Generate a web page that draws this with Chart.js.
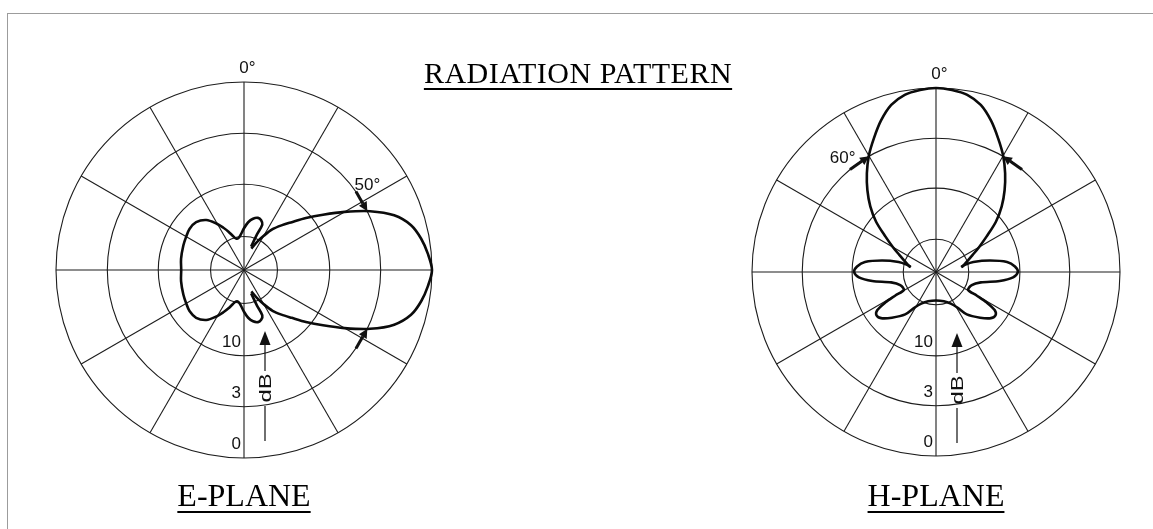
<!DOCTYPE html>
<html>
<head>
<meta charset="utf-8">
<script src="https://cdn.jsdelivr.net/npm/chart.js@4.4.0/dist/chart.umd.min.js"></script>
<style>
  html, body { margin: 0; padding: 0; background: #fff; }
  #page { position: relative; width: 1153px; height: 529px; overflow: hidden; background: #fff; }
  #frame { position: absolute; left: 7px; top: 13px; width: 1160px; height: 530px;
           border-top: 1px solid #9c9c9c; border-left: 1px solid #9c9c9c; }
  canvas { position: absolute; }
  .lbl { position: absolute; font-family: "Liberation Serif", "Times New Roman", serif; color: #000;
         text-align: center; white-space: nowrap; text-decoration: underline;
         text-decoration-thickness: 2px; text-underline-offset: 5px; line-height: 1; }
</style>
</head>
<body>
<div id="page">
  <div id="frame"></div>
  <canvas id="eChart" width="500" height="440" style="left:0px;top:40px;"></canvas>
  <canvas id="hChart" width="513" height="440" style="left:640px;top:40px;"></canvas>
  <div class="lbl" id="title" style="left:0px;width:1156px;top:58px;font-size:30px;letter-spacing:0.5px;"></div>
  <div class="lbl" id="eName" style="left:144px;width:200px;top:479px;font-size:32px;"></div>
  <div class="lbl" id="hName" style="left:836px;width:200px;top:479px;font-size:32px;"></div>
</div>
<script>
// ---------- texts ----------
const chartTitle = 'RADIATION PATTERN';
const planeNames = ['E-PLANE', 'H-PLANE'];
const unitLabel = 'dB';

// ---------- polar grid ----------
const spokeLabels = ['0°', '30°', '60°', '90°', '120°', '150°', '180°', '210°', '240°', '270°', '300°', '330°'];
const ringLevels = [0.178, 0.456, 0.727, 1.0];      // relative field level of each ring (outer ring = 0 dB)
const ringLabels = ['', '10', '3', '0'];            // dB values printed on the rings

// ---------- E-plane pattern (angle in degrees, clockwise from 0°; level relative to outer ring) ----------
const eMainAngles = [19, 25, 30, 35, 40, 45, 50, 55, 60, 65, 70, 75, 80, 85, 90, 95, 100, 105, 110, 115, 120, 125, 130, 135, 140, 145, 150, 155, 161];
const eMainLevels = [0.12, 0.165, 0.21, 0.265, 0.31, 0.36, 0.43, 0.513, 0.618, 0.74, 0.85, 0.92, 0.957, 0.982, 1.0, 0.982, 0.957, 0.92, 0.85, 0.74, 0.618, 0.513, 0.43, 0.36, 0.31, 0.265, 0.21, 0.165, 0.12];
const eSideAngles = [17, 20, 22, 19, 15, 10, 5, 0, 355, 350, 346, 342, 338, 334, 329, 323, 315, 307, 300, 292, 280, 270, 260, 248, 240, 233, 225, 217, 211, 206, 202, 198, 194, 190, 185, 180, 175, 170, 165, 161, 158, 160, 163];
const eSideLevels = [0.13, 0.2, 0.26, 0.28, 0.287, 0.277, 0.255, 0.222, 0.19, 0.172, 0.172, 0.19, 0.22, 0.25, 0.29, 0.333, 0.36, 0.363, 0.355, 0.348, 0.34, 0.334, 0.34, 0.348, 0.355, 0.363, 0.36, 0.333, 0.29, 0.25, 0.22, 0.19, 0.172, 0.172, 0.19, 0.222, 0.255, 0.277, 0.287, 0.28, 0.26, 0.2, 0.13];
const eBeamLabel = '50°';
const eBeamEdges = [64.5, 115.5];   // 3 dB crossing angles
const eBeamFrom = [55, 125];        // arrow tails (angles along the 3 dB ring)

// ---------- H-plane pattern ----------
const hMainAngles = [281, 285, 290, 295, 300, 305, 310, 315, 320, 325, 330, 335, 340, 345, 350, 355, 0, 5, 10, 15, 20, 25, 30, 35, 40, 45, 50, 55, 60, 65, 70, 75, 79];
const hMainLevels = [0.14, 0.16, 0.185, 0.22, 0.27, 0.335, 0.425, 0.505, 0.58, 0.655, 0.73, 0.80, 0.875, 0.94, 0.978, 0.993, 1.0, 0.993, 0.978, 0.94, 0.875, 0.80, 0.73, 0.655, 0.58, 0.505, 0.425, 0.335, 0.27, 0.22, 0.185, 0.16, 0.14];
const hSideAngles = [79, 76, 75, 78, 82, 86, 90, 94, 98, 103, 110, 119, 120, 121, 123, 126, 130, 136, 144, 149, 155, 165, 180, 195, 205, 211, 216, 224, 230, 234, 237, 239, 240, 241, 250, 257, 262, 266, 270, 274, 278, 282, 285, 284, 281];
const hSideLevels = [0.14, 0.165, 0.21, 0.30, 0.39, 0.43, 0.445, 0.42, 0.35, 0.25, 0.207, 0.2, 0.255, 0.32, 0.38, 0.40, 0.39, 0.345, 0.285, 0.225, 0.19, 0.165, 0.155, 0.165, 0.19, 0.225, 0.285, 0.345, 0.39, 0.40, 0.38, 0.32, 0.255, 0.2, 0.207, 0.25, 0.35, 0.42, 0.445, 0.43, 0.39, 0.30, 0.21, 0.165, 0.14];
const hBeamLabel = '60°';
const hBeamEdges = [330, 30];
const hBeamFrom = [320, 40];

document.getElementById('title').textContent = chartTitle;
document.getElementById('eName').textContent = planeNames[0];
document.getElementById('hName').textContent = planeNames[1];

function polarPoints(angles, levels) {
  return angles.map((a, i) => {
    const t = a * Math.PI / 180;
    return { x: levels[i] * Math.sin(t), y: levels[i] * Math.cos(t) };
  });
}

const INK = '#111';
const FONT = '17px "Liberation Sans", Arial, sans-serif';

const polarText = {
  id: 'polarText',
  afterDatasetsDraw(chart, args, o) {
    const s = chart.scales.r, ctx = chart.ctx;
    const cx = s.xCenter, cy = s.yCenter, R = s.drawingArea;
    const at = (deg, dist) => { const t = deg * Math.PI / 180; return [cx + dist * Math.sin(t), cy - dist * Math.cos(t)]; };
    ctx.save();
    ctx.fillStyle = INK; ctx.strokeStyle = INK;
    ctx.font = FONT;
    ctx.textBaseline = 'alphabetic';
    // 0° label at the top
    const zw = ctx.measureText('0').width;
    ctx.textAlign = 'left';
    ctx.fillText(spokeLabels[0], cx - zw / 2, cy - R - 9);
    // ring dB labels along the lower axis
    ctx.textAlign = 'right';
    ringLevels.forEach((v, i) => {
      if (ringLabels[i]) ctx.fillText(ringLabels[i], cx - 3, cy + s.getDistanceFromCenterForValue(v) - 9);
    });
    // dB axis arrow
    const ax = cx + 21;
    ctx.lineWidth = 1.2;
    ctx.beginPath();
    ctx.moveTo(ax, cy + 74); ctx.lineTo(ax, cy + 101);
    ctx.moveTo(ax, cy + 136); ctx.lineTo(ax, cy + 171);
    ctx.stroke();
    ctx.beginPath();
    ctx.moveTo(ax, cy + 61); ctx.lineTo(ax - 5.5, cy + 75); ctx.lineTo(ax + 5.5, cy + 75); ctx.closePath(); ctx.fill();
    ctx.save();
    ctx.translate(ax + 1, cy + 118); ctx.rotate(-Math.PI / 2);
    ctx.scale(1.4, 1);
    ctx.textAlign = 'center'; ctx.textBaseline = 'middle';
    ctx.fillText(unitLabel, 0, 0);
    ctx.restore();
    // beam-width arrows on the 3 dB ring
    const d3 = s.getDistanceFromCenterForValue(ringLevels[2]);
    o.edges.forEach((edge, i) => {
      const [x1, y1] = at(o.from[i], d3);
      const [x2, y2] = at(edge, d3);
      const ang = Math.atan2(y2 - y1, x2 - x1);
      const hl = 9, hw = 4.5;
      const bx = x2 - hl * Math.cos(ang), by = y2 - hl * Math.sin(ang);
      ctx.lineWidth = 3;
      ctx.beginPath(); ctx.moveTo(x1, y1); ctx.lineTo(bx, by); ctx.stroke();
      ctx.beginPath();
      ctx.moveTo(x2, y2);
      ctx.lineTo(bx + hw * Math.sin(ang), by - hw * Math.cos(ang));
      ctx.lineTo(bx - hw * Math.sin(ang), by + hw * Math.cos(ang));
      ctx.closePath(); ctx.fill();
    });
    const [lx, ly] = at(o.from[0] + 0.5, d3 + 13);
    ctx.textAlign = 'center'; ctx.textBaseline = 'middle';
    ctx.fillText(o.label, lx, ly);
    ctx.restore();
  }
};

function makeChart(id, pad, strokes, beam) {
  return new Chart(document.getElementById(id), {
    type: 'scatter',
    data: {
      labels: spokeLabels,
      datasets: strokes.map(st => ({
        data: polarPoints(st[0], st[1]),
        showLine: true, borderColor: '#0b0b0b', borderWidth: 2.6,
        pointRadius: 0, tension: 0.3, clip: false, fill: false
      }))
    },
    options: {
      responsive: false, animation: false, events: [],
      layout: { padding: pad },
      plugins: { legend: { display: false }, tooltip: { enabled: false }, title: { display: false }, polarText: beam },
      scales: {
        x: { type: 'linear', min: -1, max: 1, display: false },
        y: { type: 'linear', min: -1, max: 1, display: false },
        r: {
          type: 'radialLinear', min: 0, max: 1, startAngle: 0,
          ticks: { display: false },
          pointLabels: { display: false },
          grid: { circular: true, color: '#1c1c1c', lineWidth: 1.1 },
          angleLines: { display: true, color: '#1c1c1c', lineWidth: 1.1 },
          afterBuildTicks: (sc) => { sc.ticks = [0].concat(ringLevels).map(v => ({ value: v })); }
        }
      }
    },
    plugins: [polarText]
  });
}

makeChart('eChart', { left: 56, top: 42, right: 68, bottom: 22 },
  [[eMainAngles, eMainLevels], [eSideAngles, eSideLevels]],
  { label: eBeamLabel, edges: eBeamEdges, from: eBeamFrom });
makeChart('hChart', { left: 112, top: 48, right: 33, bottom: 24 },
  [[hMainAngles, hMainLevels], [hSideAngles, hSideLevels]],
  { label: hBeamLabel, edges: hBeamEdges, from: hBeamFrom });
</script>
</body>
</html>
